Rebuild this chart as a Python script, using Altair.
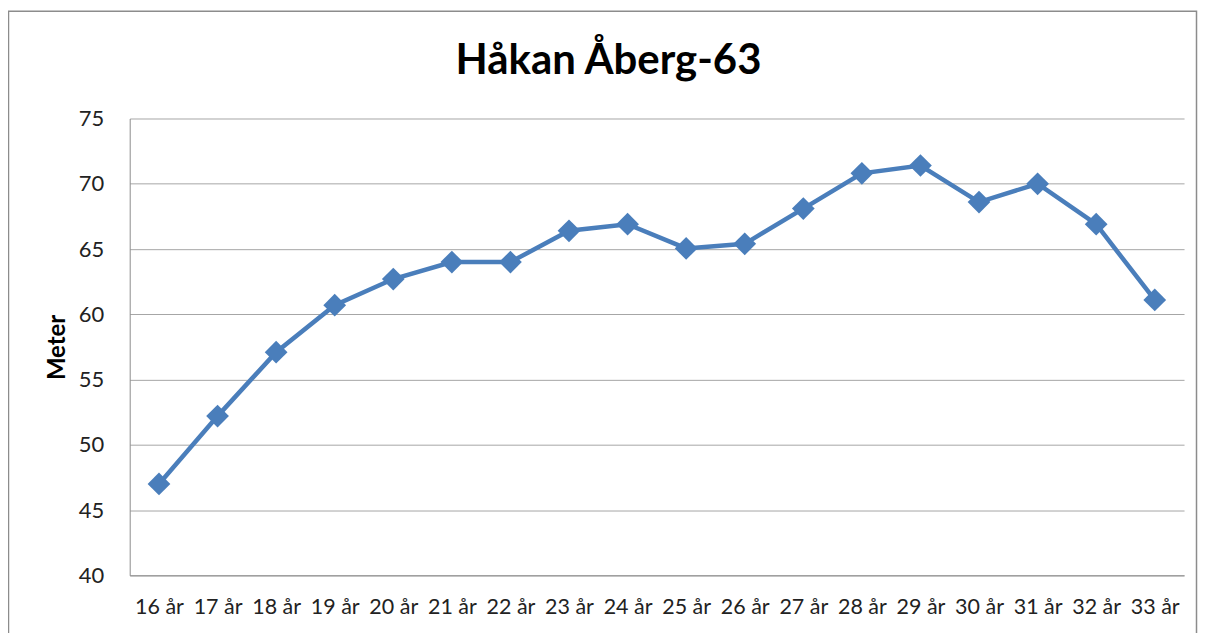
import altair as alt
import pandas as pd

ages = ["16 år", "17 år", "18 år", "19 år", "20 år", "21 år", "22 år", "23 år", "24 år",
        "25 år", "26 år", "27 år", "28 år", "29 år", "30 år", "31 år", "32 år", "33 år"]
meters = [47.0, 52.2, 57.1, 60.7, 62.7, 64.0, 64.0, 66.4, 66.9,
          65.05, 65.4, 68.1, 70.8, 71.4, 68.6, 70.0, 66.9, 61.1]
title_text = "Håkan Åberg-63"

df = pd.DataFrame({"age": ages, "m": meters})

FONT = "Lato"
BLUE = "#4a7ebb"
W, H = 1057, 458

x = alt.X("age:N", sort=ages, title=None,
          scale=alt.Scale(type="point", padding=0.5),
          axis=alt.Axis(labelAngle=0, labelFontSize=21.5, labelFont=FONT, labelColor="#222222",
                        ticks=False, labelPadding=21, domainColor="#8c8c8c", grid=False))
y = alt.Y("m:Q", title="Meter",
          scale=alt.Scale(domain=[40, 75], nice=False, zero=False),
          axis=alt.Axis(values=[40, 45, 50, 55, 60, 65, 70, 75], labelFontSize=22, labelFont=FONT,
                        labelColor="#222222", ticks=False, labelPadding=26,
                        titleFont=FONT, titleFontSize=24, titleFontWeight="bold", titleColor="#000000",
                        titlePadding=9, domainColor="#8c8c8c",
                        grid=True, gridColor="#a6a6a6", gridWidth=1))

line = alt.Chart(df).mark_line(color=BLUE, strokeWidth=4.5).encode(x=x, y=y)
pts = alt.Chart(df).mark_point(shape="diamond", filled=True, color=BLUE, size=520, opacity=1).encode(x=x, y=y)

frame = alt.Chart(pd.DataFrame({"k": [0]})).mark_rect(
    fillOpacity=0, stroke="#8c8c8c", strokeWidth=1.5, clip=False
).encode(x=alt.value(-121.5), x2=alt.value(1069.5), y=alt.value(-107.5), y2=alt.value(540))

title = alt.Chart(pd.DataFrame({"t": [title_text]})).mark_text(
    font=FONT, fontSize=42, fontWeight="bold", color="#000000",
    align="center", baseline="alphabetic", clip=False
).encode(text="t:N", x=alt.value(480), y=alt.value(-45))

chart = alt.layer(frame, line, pts, title).properties(
    width=W, height=H,
    background="white",
    autosize=alt.AutoSizeParams(type="none"),
    padding={"left": 122, "top": 110, "right": 14, "bottom": 57},
).configure_view(stroke=None)

chart.save("out.html", embed_options={"renderer": "svg", "actions": False})
